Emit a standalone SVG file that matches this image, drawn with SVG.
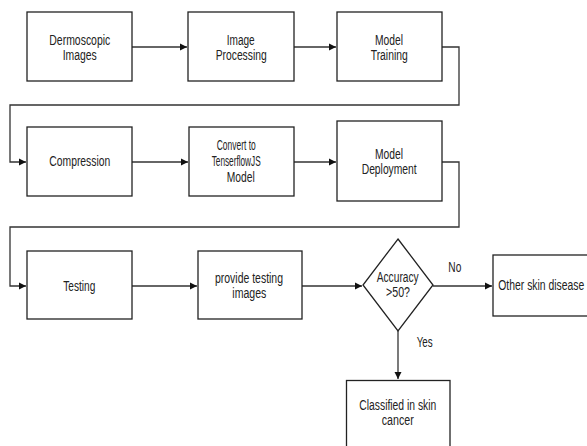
<svg xmlns="http://www.w3.org/2000/svg" width="587" height="446" viewBox="0 0 587 446">
<defs>
<marker id="ah" markerWidth="8" markerHeight="8" refX="7" refY="4" orient="auto" markerUnits="userSpaceOnUse">
<path d="M0,0.5 L7,4 L0,7.5 Z" fill="#111"/>
</marker>
<style>
.box{fill:#fff;stroke:#222;stroke-width:1.3}
.ln{fill:none;stroke:#333;stroke-width:1.3}
.t{font-family:"Liberation Sans",Arial,sans-serif;font-size:14px;fill:#222}
</style>
</defs>
<rect width="587" height="446" fill="#fff"/>
<g id="connectors">
<path class="ln" d="M132,47 H187" marker-end="url(#ah)"/>
<path class="ln" d="M294,47 H336" marker-end="url(#ah)"/>
<path class="ln" d="M442,47 H459 V105 H10 V162 H26" marker-end="url(#ah)"/>
<path class="ln" d="M132,162 H188" marker-end="url(#ah)"/>
<path class="ln" d="M294,162 H336" marker-end="url(#ah)"/>
<path class="ln" d="M442,162 H459 V227 H10 V286 H26" marker-end="url(#ah)"/>
<path class="ln" d="M132,286 H197" marker-end="url(#ah)"/>
<path class="ln" d="M302,286 H362" marker-end="url(#ah)"/>
<path class="ln" d="M433,286 H492" marker-end="url(#ah)"/>
<path class="ln" d="M398,331 V379" marker-end="url(#ah)"/>
<text class="t" x="448.3" y="272" textLength="13" lengthAdjust="spacingAndGlyphs">No</text>
<text class="t" x="416.7" y="347" textLength="16" lengthAdjust="spacingAndGlyphs">Yes</text>
</g>
<g id="n1">
<rect class="box" x="27" y="12" width="105" height="69"/>
<text class="t" x="49.3" y="45" textLength="61" lengthAdjust="spacingAndGlyphs">Dermoscopic</text>
<text class="t" x="62.7" y="60" textLength="34" lengthAdjust="spacingAndGlyphs">Images</text>
</g>
<g id="n2">
<rect class="box" x="188" y="12" width="106" height="69"/>
<text class="t" x="226.7" y="45" textLength="28" lengthAdjust="spacingAndGlyphs">Image</text>
<text class="t" x="215.7" y="60" textLength="51" lengthAdjust="spacingAndGlyphs">Processing</text>
</g>
<g id="n3">
<rect class="box" x="337" y="12" width="105" height="69"/>
<text class="t" x="375" y="45" textLength="28" lengthAdjust="spacingAndGlyphs">Model</text>
<text class="t" x="370.7" y="60" textLength="37" lengthAdjust="spacingAndGlyphs">Training</text>
</g>
<g id="n4">
<rect class="box" x="27" y="127" width="105" height="69"/>
<text class="t" x="49.3" y="166" textLength="61" lengthAdjust="spacingAndGlyphs">Compression</text>
</g>
<g id="n5">
<rect class="box" x="189" y="127" width="105" height="69"/>
<text class="t" x="216.7" y="150" textLength="39" lengthAdjust="spacingAndGlyphs">Convert to</text>
<text class="t" x="211.7" y="166" textLength="49" lengthAdjust="spacingAndGlyphs">TenserflowJS</text>
<text class="t" x="226.7" y="182" textLength="28" lengthAdjust="spacingAndGlyphs">Model</text>
</g>
<g id="n6">
<rect class="box" x="337" y="121" width="105" height="80"/>
<text class="t" x="375" y="159" textLength="28" lengthAdjust="spacingAndGlyphs">Model</text>
<text class="t" x="361.7" y="174" textLength="55" lengthAdjust="spacingAndGlyphs">Deployment</text>
</g>
<g id="n7">
<rect class="box" x="27" y="251" width="105" height="68"/>
<text class="t" x="63.3" y="291" textLength="32" lengthAdjust="spacingAndGlyphs">Testing</text>
</g>
<g id="n8">
<rect class="box" x="198" y="251" width="104" height="68"/>
<text class="t" x="215" y="283" textLength="68" lengthAdjust="spacingAndGlyphs">provide testing</text>
<text class="t" x="232.3" y="298" textLength="34" lengthAdjust="spacingAndGlyphs">images</text>
</g>
<g id="n9">
<polygon class="box" points="398,239 433,285 398,331 363,285"/>
<text class="t" x="376.7" y="282" textLength="42" lengthAdjust="spacingAndGlyphs">Accuracy</text>
<text class="t" x="386" y="297" textLength="24" lengthAdjust="spacingAndGlyphs">&gt;50?</text>
</g>
<g id="n10">
<rect class="box" x="493" y="255" width="110" height="61"/>
<text class="t" x="498.3" y="290" textLength="86" lengthAdjust="spacingAndGlyphs">Other skin disease</text>
</g>
<g id="n11">
<rect class="box" x="346.5" y="380.5" width="103.5" height="80"/>
<text class="t" x="359.3" y="410" textLength="77" lengthAdjust="spacingAndGlyphs">Classified in skin</text>
<text class="t" x="381.7" y="425" textLength="32" lengthAdjust="spacingAndGlyphs">cancer</text>
</g>
</svg>
